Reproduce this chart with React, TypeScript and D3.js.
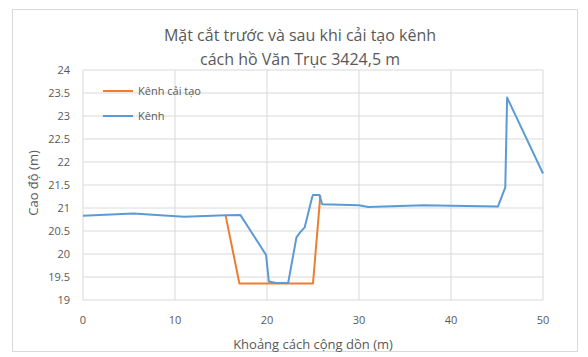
import React from "react";
import * as d3 from "d3";

const titleLines = ["Mặt cắt trước và sau khi cải tạo kênh", "cách hồ Văn Trục 3424,5 m"];
const xTicks = [0, 10, 20, 30, 40, 50];
const yTicks = [19, 19.5, 20, 20.5, 21, 21.5, 22, 22.5, 23, 23.5, 24];

const canalX = [0, 3, 5.5, 8, 11, 15.5, 17.1, 19.9, 20.2, 21, 22.3, 23.2, 23.6, 24.1, 24.9, 25.0, 25.7, 26.0, 30, 31, 37, 40, 45.1, 45.9, 46.1, 50];
const canalY = [20.83, 20.86, 20.88, 20.85, 20.81, 20.84, 20.85, 19.98, 19.4, 19.37, 19.37, 20.36, 20.47, 20.58, 21.23, 21.28, 21.28, 21.08, 21.06, 21.02, 21.06, 21.05, 21.03, 21.45, 23.4, 21.75];

const newX = [15.5, 17.0, 25.0, 25.8];
const newY = [20.84, 19.36, 19.36, 21.28];

const seriesNames = ["Kênh cải tạo", "Kênh"];
const colors = ["#ED7D31", "#5B9BD5"];

export default function App() {
  const W = 588, H = 357;
  const left = 83, right = 543, top = 70, bottom = 300;
  const x = d3.scaleLinear().domain([0, 50]).range([left, right]);
  const y = d3.scaleLinear().domain([19, 24]).range([bottom, top]);
  const line = d3.line<[number, number]>().x(d => x(d[0])).y(d => y(d[1]));
  const canal = canalX.map((v, i) => [v, canalY[i]] as [number, number]);
  const renov = newX.map((v, i) => [v, newY[i]] as [number, number]);
  const font = "'Open Sans', 'Liberation Sans', sans-serif";
  const txt = "#595959";
  return (
    <div style={{ position: "absolute", left: 0, top: 0 }}>
      <svg width={W} height={H} style={{ display: "block", fontFamily: font }}>
        <rect x={0} y={0} width={W} height={H} fill="#fff" />
        <rect x={12.5} y={9.5} width={565} height={342} fill="#fff" stroke="#d9d9d9" />
        {titleLines.map((t, i) => (
          <text key={i} x={300} y={41 + i * 24} textAnchor="middle" fontSize={16} fill={txt}>{t}</text>
        ))}
        {yTicks.map(t => (
          <g key={t}>
            <line x1={left} x2={right} y1={y(t)} y2={y(t)} stroke="#d9d9d9" strokeWidth={1} />
            <text x={70} y={y(t) + 4} textAnchor="end" fontSize={11} fill={txt}>{String(t)}</text>
          </g>
        ))}
        {xTicks.map(t => (
          <g key={t}>
            <line x1={x(t)} x2={x(t)} y1={top} y2={bottom} stroke="#d9d9d9" strokeWidth={1} />
            <text x={x(t)} y={324} textAnchor="middle" fontSize={11} fill={txt}>{t}</text>
          </g>
        ))}
        <path d={line(renov) || ""} fill="none" stroke={colors[0]} strokeWidth={2} strokeLinejoin="round" />
        <path d={line(canal) || ""} fill="none" stroke={colors[1]} strokeWidth={2} strokeLinejoin="round" />
        {seriesNames.map((n, i) => (
          <g key={n}>
            <line x1={103} x2={133} y1={91 + i * 25} y2={91 + i * 25} stroke={colors[i]} strokeWidth={2} />
            <text x={138} y={95 + i * 25} fontSize={11} fill={txt}>{n}</text>
          </g>
        ))}
        <text x={313} y={349} textAnchor="middle" fontSize={13} fill={txt}>Khoảng cách cộng dồn (m)</text>
        <text transform={`translate(38,183) rotate(-90)`} textAnchor="middle" fontSize={13} fill={txt}>Cao độ (m)</text>
      </svg>
    </div>
  );
}
